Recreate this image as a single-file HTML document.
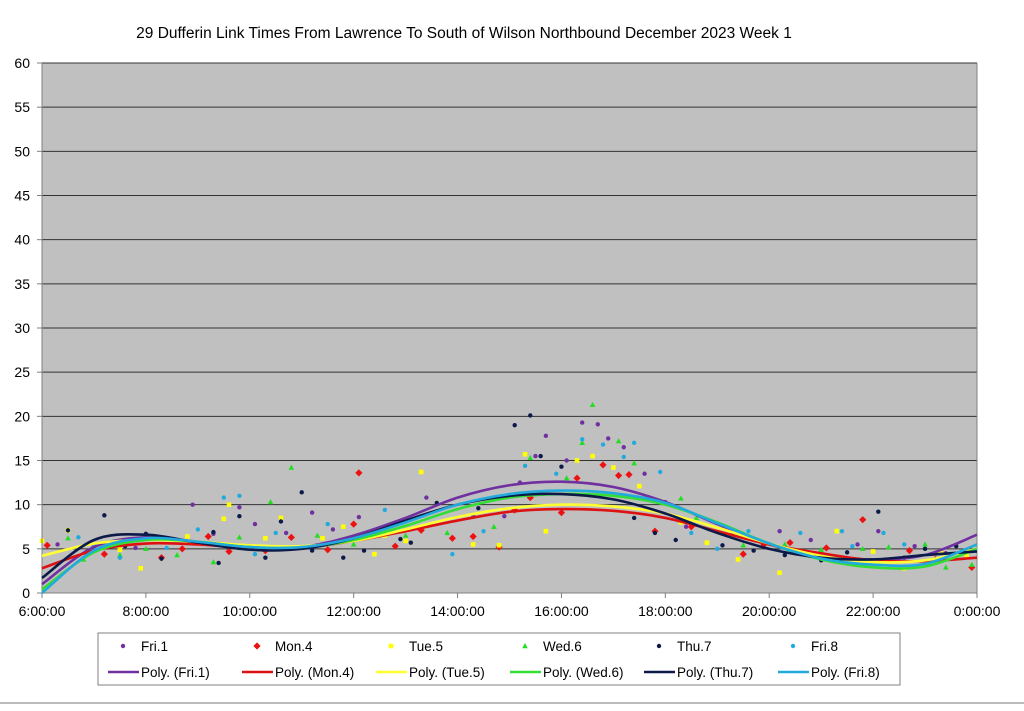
<!DOCTYPE html>
<html><head><meta charset="utf-8"><style>
body{margin:0;background:#fff;width:1024px;height:706px;overflow:hidden;font-family:"Liberation Sans",sans-serif}
</style></head><body>
<svg id="c" width="1024" height="706" xmlns="http://www.w3.org/2000/svg">
<text x="464" y="38" text-anchor="middle" font-size="15.5" font-family="Liberation Sans, sans-serif">29 Dufferin Link Times From Lawrence To South of Wilson Northbound December 2023  Week 1</text>
<rect x="42" y="63" width="935" height="530" fill="#c0c0c0"/>
<g id="grid"></g><g id="curves"></g><g id="pts"></g><g id="axes"></g><g id="legend"></g>
<line x1="0" y1="703" x2="1024" y2="703" stroke="#bbb" stroke-width="2"/>
</svg>
<script>
const yTicks=[0,5,10,15,20,25,30,35,40,45,50,55,60];
const xTickHours=[6,8,10,12,14,16,18,20,22,24];
const xTickLabels=["6:00:00","8:00:00","10:00:00","12:00:00","14:00:00","16:00:00","18:00:00","20:00:00","22:00:00","0:00:00"];
const seriesNames=["Fri.1","Mon.4","Tue.5","Wed.6","Thu.7","Fri.8"];
const curveHours=[6,7,8,9,10,11,12,13,14,15,16,17,18,19,20,21,22,23,24];
const fitFri1=[1.0,5.2,6.3,5.8,5.2,5.2,6.5,8.5,10.8,12.2,12.6,12.0,10.3,7.8,5.5,4.2,3.8,4.3,6.6];
const fitMon4=[2.8,4.8,5.6,5.5,5.1,5.1,5.9,7.0,8.2,9.2,9.5,9.3,8.5,7.0,5.5,4.5,3.7,3.6,4.0];
const fitTue5=[4.2,5.6,6.0,5.8,5.4,5.3,5.9,7.2,8.6,9.6,10.0,9.8,9.0,7.4,5.6,4.2,3.5,3.7,5.0];
const fitWed6=[0.4,4.6,6.0,5.8,5.2,5.1,6.0,7.6,9.5,10.8,11.2,11.0,10.0,8.0,5.6,3.8,2.9,3.0,5.0];
const fitThu7=[1.7,6.0,6.6,5.7,4.9,5.0,6.2,8.2,10.0,11.0,11.2,10.6,9.0,6.8,5.0,4.0,3.8,4.3,4.7];
const fitFri8=[0.0,4.8,6.2,5.8,5.2,5.2,6.2,8.0,10.0,11.2,11.6,11.3,10.2,7.9,5.6,3.9,3.2,3.3,5.5];
const ptsFri1=[[6.3,5.5],[7.0,5.3],[7.8,5.1],[8.9,10.0],[9.8,9.7],[10.1,7.8],[11.2,9.1],[11.6,7.2],[12.1,8.6],[13.4,10.8],[14.3,8.8],[15.2,12.5],[15.5,15.5],[15.7,17.8],[16.1,15.0],[16.4,19.3],[16.7,19.1],[16.9,17.5],[17.2,16.5],[17.6,13.5],[18.0,10.3],[18.4,7.5],[19.3,6.8],[20.2,7.0],[20.8,6.0],[21.7,5.5],[22.1,7.0],[22.8,5.3],[23.4,4.5],[9.3,6.7],[10.7,6.8],[14.9,8.7]];
const ptsMon4=[[6.1,5.4],[7.2,4.4],[7.6,5.7],[8.3,4.0],[8.7,5.0],[9.2,6.4],[9.6,4.7],[10.3,4.8],[10.8,6.3],[11.5,4.9],[12.0,7.8],[12.1,13.6],[12.8,5.3],[13.3,7.1],[14.3,6.4],[14.8,5.2],[15.1,9.4],[15.4,10.8],[16.0,9.1],[16.3,13.0],[16.8,14.5],[17.1,13.3],[17.3,13.4],[17.8,7.0],[18.5,7.5],[19.5,4.4],[19.9,5.5],[20.4,5.7],[21.1,5.1],[21.8,8.3],[22.7,4.8],[23.2,3.8],[23.9,2.9],[13.9,6.2]];
const ptsTue5=[[6.0,5.9],[6.5,7.1],[7.5,4.9],[7.9,2.8],[8.8,6.4],[9.5,8.4],[9.6,10.0],[10.3,6.2],[10.6,8.5],[11.4,6.2],[11.8,7.5],[12.4,4.4],[13.0,5.9],[13.3,13.7],[14.3,5.5],[14.8,5.4],[15.3,15.7],[15.7,7.0],[16.3,15.0],[16.6,15.5],[17.0,14.2],[17.5,12.1],[18.3,8.0],[18.8,5.7],[19.4,3.8],[20.2,2.3],[20.6,4.5],[21.3,7.0],[22.0,4.7],[22.6,2.8],[23.3,4.7],[23.8,4.2],[12.6,6.5]];
const ptsWed6=[[6.5,6.2],[6.8,3.8],[7.5,4.3],[8.6,4.3],[9.3,3.5],[9.8,6.3],[10.4,10.3],[10.8,14.2],[11.3,6.5],[12.0,5.5],[13.0,6.5],[13.8,6.8],[14.7,7.5],[15.4,15.3],[16.1,13.0],[16.4,17.0],[16.6,21.3],[17.1,17.2],[17.4,14.7],[18.3,10.7],[18.6,8.5],[19.5,5.4],[20.3,5.5],[21.0,4.9],[21.8,5.0],[22.3,5.2],[23.0,5.5],[23.4,2.9],[23.9,3.2],[8.0,5.0]];
const ptsThu7=[[6.5,7.1],[7.2,8.8],[7.6,5.3],[8.0,6.7],[8.3,3.9],[9.3,6.9],[9.4,3.4],[9.8,8.7],[10.3,4.0],[10.6,8.1],[11.0,11.4],[11.2,4.8],[11.8,4.0],[12.2,4.8],[13.1,5.7],[13.6,10.2],[14.4,9.6],[15.1,19.0],[15.4,20.1],[15.6,15.5],[16.0,14.3],[17.4,8.5],[17.8,6.8],[18.2,6.0],[19.1,5.4],[19.7,4.8],[20.3,4.3],[21.0,3.7],[21.5,4.6],[22.1,9.2],[22.6,4.0],[23.0,5.0],[23.6,5.3],[12.9,6.1]];
const ptsFri8=[[6.7,6.3],[7.5,4.0],[8.4,5.1],[9.0,7.2],[9.5,10.8],[9.8,11.0],[10.1,4.4],[10.5,6.8],[11.5,7.8],[12.6,9.4],[13.9,4.4],[14.5,7.0],[15.3,14.4],[15.9,13.5],[16.4,17.4],[16.8,16.8],[17.2,15.4],[17.4,17.0],[17.9,13.7],[18.5,6.8],[19.0,5.0],[19.6,7.0],[20.6,6.8],[21.4,7.0],[21.6,5.3],[22.2,6.8],[22.6,5.5],[23.2,4.5],[7.0,5.2]];

const allFits=[fitFri1,fitMon4,fitTue5,fitWed6,fitThu7,fitFri8];
const allPts=[ptsFri1,ptsMon4,ptsTue5,ptsWed6,ptsThu7,ptsFri8];
const colors=["#7030a0","#ee1111","#ffff00","#22dd22","#0c1a4a","#22aadd"];
const lineColors=["#7030a0","#dd1111","#ffff33","#33dd33","#0c1a4a","#22aadd"];
const markers=["circle","diamond","square","triangle","circle","circle"];
const NS="http://www.w3.org/2000/svg";
const X0=42,X1=977,Y0=593,Y1=63;
const xs=h=>X0+(h-6)/18*(X1-X0);
const ys=v=>Y0-v/60*(Y0-Y1);
function mk(tag,attrs,parent){const e=document.createElementNS(NS,tag);for(const k in attrs)e.setAttribute(k,attrs[k]);parent.appendChild(e);return e;}
const grid=document.getElementById('grid'),axes=document.getElementById('axes');
yTicks.forEach(t=>{
  const l=mk('line',{x1:X0,x2:X1,y1:ys(t),y2:ys(t),stroke:t===0?'#808080':'#333','stroke-width':1},grid);
  
  
  mk('line',{x1:X0-5,x2:X0,y1:ys(t),y2:ys(t),stroke:'#808080'},axes);
  const tx=mk('text',{x:30,y:ys(t)+5,'text-anchor':'end','font-size':14},axes);
  tx.textContent=t;
  
  
});
mk('line',{x1:X0,x2:X0,y1:Y1,y2:Y0,stroke:'#808080'},axes);
mk('line',{x1:X1,x2:X1,y1:Y1,y2:Y0,stroke:'#808080'},axes);
xTickHours.forEach((h,i)=>{
  mk('line',{x1:xs(h),x2:xs(h),y1:Y0,y2:Y0+5,stroke:'#808080'},axes);
  const tx=mk('text',{x:xs(h),y:616,'text-anchor':'middle','font-size':14},axes);
  tx.textContent=xTickLabels[i];
  
  
});
function smooth(pts){let d=`M${pts[0][0]},${pts[0][1]}`;for(let i=0;i<pts.length-1;i++){const p0=pts[Math.max(0,i-1)],p1=pts[i],p2=pts[i+1],p3=pts[Math.min(pts.length-1,i+2)];
 d+=` C${p1[0]+(p2[0]-p0[0])/6},${p1[1]+(p2[1]-p0[1])/6} ${p2[0]-(p3[0]-p1[0])/6},${p2[1]-(p3[1]-p1[1])/6} ${p2[0]},${p2[1]}`;}return d;}
function marker(type,cx,cy,col,parent,s){
  if(type==='circle')return mk('circle',{cx,cy,r:2.2*s,fill:col},parent);
  if(type==='diamond')return mk('polygon',{points:`${cx},${cy-3.6*s} ${cx+3.6*s},${cy} ${cx},${cy+3.6*s} ${cx-3.6*s},${cy}`,fill:col},parent);
  if(type==='square')return mk('rect',{x:cx-2.3*s,y:cy-2.3*s,width:4.6*s,height:4.6*s,fill:col},parent);
  return mk('polygon',{points:`${cx},${cy-3*s} ${cx+2.8*s},${cy+2.2*s} ${cx-2.8*s},${cy+2.2*s}`,fill:col},parent);
}
const ptsG=document.getElementById('pts');
allPts.forEach((arr,si)=>{arr.forEach(p=>{
  const m=marker(markers[si],xs(p[0]),ys(p[1]),colors[si],ptsG,1);
  
  
});});
const cg=document.getElementById('curves');
allFits.forEach((f,si)=>{
  const p=mk('path',{d:smooth(curveHours.map((h,i)=>[xs(h),ys(f[i])])),fill:'none',stroke:lineColors[si],'stroke-width':2.6},cg);
  
  
});
cg.parentNode.appendChild(cg);
const lg=document.getElementById('legend');
const box=mk('rect',{x:98,y:633,width:802,height:52,fill:'#fff',stroke:'#808080'},lg);


seriesNames.forEach((n,i)=>{
  const cx=123+i*134;
  marker(markers[i],cx,646,colors[i],lg,1);
  const t=mk('text',{x:141,y:651,'font-size':13.5},lg);
  t.setAttribute('x',141+i*134);
  t.textContent=n;
  
  
  mk('line',{x1:108+i*134,x2:139+i*134,y1:672,y2:672,stroke:lineColors[i],'stroke-width':2.6},lg);
  const t2=mk('text',{x:141+i*134,y:677,'font-size':13.5},lg);
  t2.textContent='Poly. ('+n+')';
  
  
});
</script>
</body></html>
